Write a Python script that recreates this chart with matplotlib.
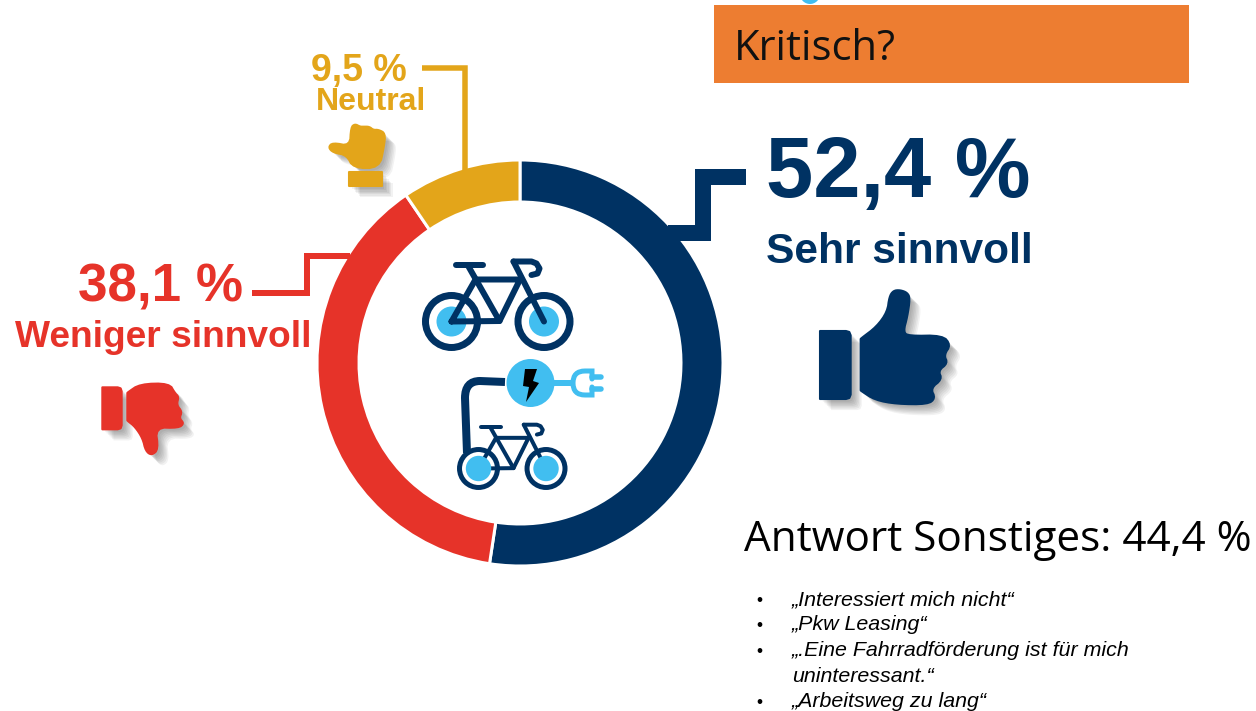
import matplotlib
matplotlib.use('Agg')
import matplotlib.pyplot as plt
from matplotlib.patches import Circle, Polygon, Rectangle, PathPatch
from matplotlib.path import Path
import matplotlib.patheffects as pe

categories = ['Sehr sinnvoll', 'Weniger sinnvoll', 'Neutral']
shares = [52.4, 38.1, 9.5]
colors = ['#003263', '#E63329', '#E3A51A']
other_title = 'Antwort Sonstiges: 44,4 %'
other_lines = [
  '„Interessiert mich nicht“',
  '„Pkw Leasing“',
  '„.Eine Fahrradförderung ist für mich',
  'uninteressant.“',
  '„Arbeitsweg zu lang“',
]
other_bullets = [True, True, True, False, True]

W, H = 1256, 711
NAVY, RED, YELLOW = colors
CYAN = '#41BEF0'
PX = 0.72  # one pixel in points at dpi 100

def label(v):
  return ('%.1f %%' % v).replace('.', ',')

def shadow():
  return [pe.SimplePatchShadow(offset=(o, -o), shadow_rgbFace='k', alpha=0.05) for o in (8, 7, 6, 5, 4, 3, 2)] + [pe.Normal()]

def chaikin(pts, n=2):
  for _ in range(n):
    new = []
    for i in range(len(pts)):
      a, b = pts[i], pts[(i + 1) % len(pts)]
      new.append((0.75 * a[0] + 0.25 * b[0], 0.75 * a[1] + 0.25 * b[1]))
      new.append((0.25 * a[0] + 0.75 * b[0], 0.25 * a[1] + 0.75 * b[1]))
    pts = new
  return pts

def blob(ax, pts, ox, oy, color, smooth=True):
  if smooth:
    pts = chaikin(pts)
  p = Polygon([(ox + x / 3, oy + y / 3) for x, y in pts], closed=True, fc=color, ec=color,
              lw=1.5, joinstyle='round', zorder=3)
  p.set_path_effects(shadow())
  ax.add_patch(p)

def line(ax, pts, color, lw, cap='round', z=4):
  ax.plot([p[0] for p in pts], [p[1] for p in pts], color=color, lw=lw * PX,
          solid_capstyle=cap, solid_joinstyle='miter' if cap == 'butt' else 'round', zorder=z)

def bike(ax, x0, y0, s, lw, ring_lw, hub_r, hub_on_top):
  # coordinates relative to the left wheel, big bike size
  def t(x, y):
    return (x0 + x * s, y0 + y * s)
  for wx in (0, 92.5):
    ax.add_patch(Circle(t(wx, 0), hub_r, fc=CYAN, ec='none', zorder=7 if hub_on_top else 4))
    ax.add_patch(Circle(t(wx, 0), 26 * s, fc='none', ec=NAVY, lw=ring_lw * PX, zorder=5))
  line(ax, [t(0, 0), t(24, -42), t(68.5, -42), t(48, -0.5), t(0, 0)], NAVY, lw, z=6)
  line(ax, [t(48, -0.5), t(17, -55)], NAVY, lw, z=6)
  line(ax, [t(4, -57), t(31, -57)], NAVY, lw, z=6)
  line(ax, [t(92.5, 0), t(62, -60)], NAVY, lw, z=6)
  line(ax, [t(62, -60), t(80, -60), t(85, -58), t(88, -53), t(86, -48), t(80, -46.5)], NAVY, lw, z=6)

fig = plt.figure(figsize=(W / 100, H / 100), dpi=100, facecolor='white')

# donut
cx, cy, R = 520, 363, 203
pie_ax = fig.add_axes([(cx - R) / W, 1 - (cy + R) / H, 2 * R / W, 2 * R / H], zorder=1)
pie_ax.pie(shares, colors=colors, startangle=90, counterclock=False, radius=1,
           wedgeprops=dict(width=42 / R, edgecolor='white', linewidth=3 * PX))
pie_ax.set_xlim(-1, 1)
pie_ax.set_ylim(-1, 1)

top = fig.add_axes([0, 0, 1, 1], zorder=2)
top.set_xlim(0, W)
top.set_ylim(H, 0)
top.axis('off')
top.patch.set_alpha(0)

# leader lines
line(top, [(668, 232.5), (702.5, 232.5), (702.5, 177), (746, 177)], NAVY, 16, cap='butt')
line(top, [(252, 293), (307, 293), (307, 256), (350, 256)], RED, 6, cap='butt')
line(top, [(422, 68), (465, 68), (465, 172)], YELLOW, 5.5, cap='butt')

sans = 'Liberation Sans'
top.text(766, 197, label(shares[0]), color=NAVY, fontsize=61.2, fontweight='bold', family=sans, va='baseline')
top.text(766, 263, categories[0], color=NAVY, fontsize=30.6, fontweight='bold', family=sans, va='baseline')
top.text(78, 302, label(shares[1]), color=RED, fontsize=38.2, fontweight='bold', family=sans, va='baseline')
top.text(15, 347, categories[1], color=RED, fontsize=26.7, fontweight='bold', family=sans, va='baseline')
top.text(311, 81, label(shares[2]), color=YELLOW, fontsize=27, fontweight='bold', family=sans, va='baseline')
top.text(316, 110, categories[2], color=YELLOW, fontsize=23, fontweight='bold', family=sans, va='baseline')

# thumb icons
blob(top, [(60, 153), (138, 153), (148, 156), (152, 166), (152, 344), (148, 354), (138, 357), (60, 357)], 800, 280, NAVY, smooth=False)
blob(top, [(182, 178), (182, 176), (230, 140), (262, 95), (268, 50), (280, 32), (300, 30), (322, 38), (330, 55), (322, 110),
           (310, 155), (325, 168), (428, 166), (452, 195), (432, 225), (443, 250), (415, 272), (426, 298),
           (392, 325), (406, 355), (383, 373), (290, 372), (225, 360), (182, 332), (182, 330)], 800, 280, NAVY)
blob(top, [(67, 52), (113, 52), (122, 55), (125, 64), (125, 166), (122, 175), (113, 178), (67, 178)], 80, 370, RED, smooth=False)
blob(top, [(142, 70), (142, 68), (180, 42), (268, 40), (285, 70), (296, 80), (290, 105), (306, 125), (298, 145), (312, 160),
           (296, 174), (226, 172), (235, 238), (215, 256), (197, 243), (188, 205), (165, 170), (142, 152), (142, 150)], 80, 370, RED)
blob(top, [(85, 322), (98, 308), (150, 318), (153, 262), (165, 252), (180, 260), (190, 260), (208, 260), (220, 270),
           (235, 269), (256, 280), (252, 320), (238, 384), (160, 384), (140, 345), (100, 338)], 300, 40, YELLOW)
blob(top, [(148, 397), (245, 397), (245, 438), (148, 438)], 300, 40, YELLOW, smooth=False)

# bikes and plug in the middle
bike(top, 451.5, 321.5, 1.0, 6, 7, 15, False)
bike(top, 478.5, 468.5, 0.73, 4, 5, 12.7, True)
top.add_patch(PathPatch(Path([(505, 382), (480, 381), (465, 381), (465, 398), (467, 453)],
                             [Path.MOVETO, Path.LINETO, Path.CURVE3, Path.CURVE3, Path.LINETO]),
                        fc='none', ec=NAVY, lw=8 * PX, capstyle='butt', zorder=4))
top.add_patch(Circle((530.5, 383), 24, fc=CYAN, ec='none', zorder=5))
top.add_patch(Polygon([(525, 369), (537, 369), (533, 381), (539, 383), (526, 402), (529, 387), (523, 386)],
                      fc='k', ec='none', zorder=6))
line(top, [(554, 383), (573, 383)], CYAN, 6, cap='butt')
line(top, [(592, 377), (601, 377)], CYAN, 5.5)
line(top, [(592, 389), (601, 389)], CYAN, 5.5)
top.add_patch(PathPatch(Path([(592, 379), (592, 371), (585, 371), (573, 371), (573, 383), (573, 395), (585, 395), (592, 395), (592, 387)],
                             [Path.MOVETO, Path.LINETO, Path.LINETO, Path.CURVE3, Path.CURVE3, Path.CURVE3, Path.CURVE3, Path.LINETO, Path.LINETO]),
                        fc='none', ec=CYAN, lw=5 * PX, capstyle='round', zorder=4))

# orange box and cut off mark above it
top.add_patch(Circle((810, -6), 10, fc=CYAN, ec='none', zorder=2))
top.add_patch(Rectangle((714, 5), 475, 78, fc='#ED7D31', ec='none', zorder=2))
top.text(734, 60, 'Kritisch?', color='#111111', fontsize=30, family='Open Sans', va='baseline', zorder=3)

# answers list
top.text(744, 551, other_title, color='k', fontsize=30.4, family='Open Sans', va='baseline')
baselines = [605, 630, 656, 682, 707]
for txt, has_bullet, y in zip(other_lines, other_bullets, baselines):
  if has_bullet:
    top.text(756, y, '•', color='k', fontsize=12.5, family=sans, va='baseline')
  top.text(792, y, txt, color='k', fontsize=15.4, family=sans, style='italic', va='baseline')

fig.savefig('out.png', dpi=100)
